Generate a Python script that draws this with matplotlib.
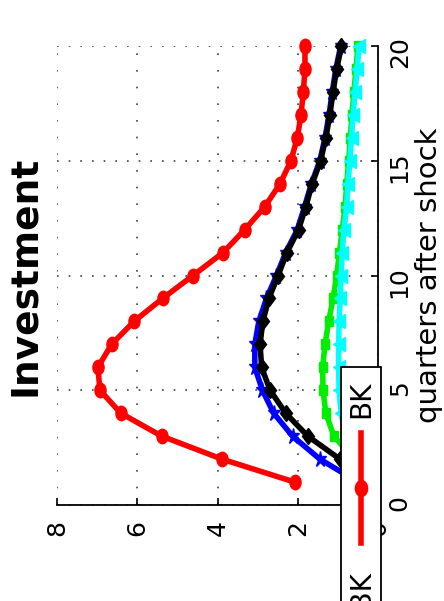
import numpy as np
import matplotlib
matplotlib.use('Agg')
import matplotlib.pyplot as plt
from matplotlib.markers import MarkerStyle
from matplotlib.transforms import Affine2D
from matplotlib.patches import Rectangle

# impulse responses of investment, quarters 1..20
quarters = np.arange(1, 21)
inv_blue = [0.50, 1.45, 2.13, 2.60, 2.88, 3.07, 3.07, 2.97, 2.78, 2.53,
            2.30, 2.01, 1.83, 1.66, 1.45, 1.32, 1.22, 1.14, 1.05, 0.93]
inv_black = [0.40, 0.95, 1.75, 2.30, 2.69, 2.90, 2.94, 2.87, 2.72, 2.49,
             2.27, 1.98, 1.80, 1.64, 1.43, 1.30, 1.20, 1.12, 1.03, 0.91]
inv_green = [0.30, 0.60, 1.10, 1.30, 1.37, 1.38, 1.32, 1.23, 1.12, 1.03,
             0.96, 0.89, 0.82, 0.78, 0.73, 0.69, 0.65, 0.60, 0.55, 0.50]
inv_cyan = [0.20, 0.55, 0.80, 0.92, 0.97, 0.98, 0.98, 0.97, 0.94, 0.92,
            0.89, 0.85, 0.78, 0.75, 0.70, 0.66, 0.62, 0.57, 0.52, 0.47]
inv_red = [2.08, 3.89, 5.39, 6.41, 6.93, 6.98, 6.64, 6.08, 5.37, 4.61,
           3.86, 3.32, 2.82, 2.44, 2.17, 2.01, 1.92, 1.86, 1.82, 1.82]

series = [
    (inv_blue, '#0000ff', '*', 9, 'RBC'),
    (inv_black, '#000000', 'D', 6.5, 'FA'),
    (inv_green, '#00ee00', 's', 6, 'FA noBK'),
    (inv_cyan, '#00ffff', '<', 8, 'noBK'),
    (inv_red, '#ff0000', 'o', 8, 'BK'),
]

value_ticks = [8, 6, 4, 2, 0]
quarter_ticks = [0, 5, 10, 15, 20]

W, H = 444, 601
fig = plt.figure(figsize=(W / 100, H / 100), dpi=100)
ax = fig.add_axes([57 / W, (H - 505) / H, 321 / W, 459 / H])

stretch = Affine2D().scale(1, 1.3)
for vals, col, mk, ms, lab in series:
    ax.plot(vals, quarters, color=col, lw=4, marker=MarkerStyle(mk, transform=stretch),
            ms=ms, mfc=col, mec=col, label=lab, clip_on=False)

ax.set_xlim(8, 0)
ax.set_ylim(0, 20)
ax.set_xticks(value_ticks)
ax.set_yticks(quarter_ticks)
ax.yaxis.tick_right()
ax.spines['left'].set_visible(False)
ax.spines['top'].set_visible(False)
for s in ['right', 'bottom']:
    ax.spines[s].set_linewidth(1.3)
ax.tick_params(direction='in', length=5, width=1.2, labelsize=18)
ax.tick_params(axis='x', labelrotation=90, pad=11)
ax.tick_params(axis='y', labelrotation=90, pad=7, left=False, right=True)

ax.xaxis.grid(True, color='0.25', lw=1.2, linestyle=(0, (1, 9)))
ax.yaxis.grid(True, color='0.25', lw=1.2, linestyle=(0, (1, 6)))
ax.set_axisbelow(True)

ax.text(-0.045, 0.5, 'Investment', transform=ax.transAxes, rotation=90,
        ha='right', va='center', fontsize=27, fontweight='bold')
ax.text(1.115, 0.5, 'quarters after shock', transform=ax.transAxes, rotation=90,
        ha='left', va='center', fontsize=21)

# horizontal legend, turned with the rest of the chart
ov = fig.add_axes([0, 0, 1, 1])
ov.set_xlim(0, W)
ov.set_ylim(H, 0)
ov.axis('off')
ov.add_patch(Rectangle((341, 367), 40, 900, fc='white', ec='black', lw=1.3, clip_on=False))
r = fig.canvas.get_renderer()
cursor = 381
for vals, col, mk, ms, lab in reversed(series):
    t = ov.text(361, cursor, lab, rotation=90, ha='center', va='top', fontsize=20)
    h = t.get_window_extent(r).height
    top = cursor + h + 15
    ov.plot([361, 361], [top, top + 110], color=col, lw=4)
    ov.plot([361], [top + 55], color=col, marker=MarkerStyle(mk, transform=stretch),
            ms=ms * 1.1, mfc=col, mec=col)
    cursor = top + 110 + 27

fig.savefig('out.png', dpi=100)
